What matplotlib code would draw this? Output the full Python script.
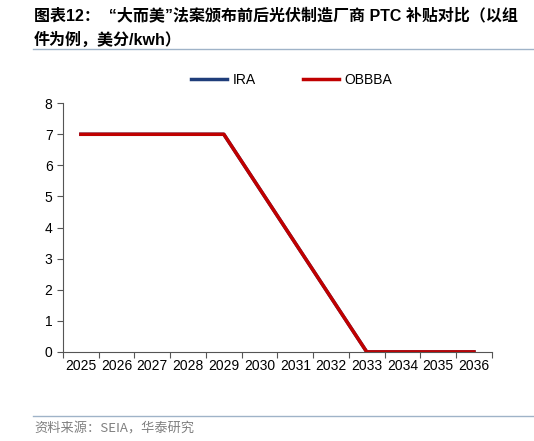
import matplotlib
matplotlib.use("Agg")
import matplotlib.pyplot as plt
from matplotlib.lines import Line2D

plt.rcParams['font.family'] = ['Liberation Sans', 'Noto Sans CJK SC', 'DejaVu Sans']

years = ['2025', '2026', '2027', '2028', '2029', '2030', '2031', '2032',
         '2033', '2034', '2035', '2036']
ira = [7, 7, 7, 7, 7, 5.25, 3.5, 1.75, 0, 0, 0, 0]
obbba = [7, 7, 7, 7, 7, 5.25, 3.5, 1.75, 0, 0, 0, 0]

blue = '#1f3d7a'
red = '#c00000'

fig = plt.figure(figsize=(5.34, 4.41), dpi=100)
ax = fig.add_axes([0.118, 0.202, 0.803, 0.564])

x = list(range(len(years)))
ax.plot(x, ira, color=blue, lw=2.5, label='IRA')
ax.plot(x, obbba, color=red, lw=2.5, label='OBBBA')

ax.set_xlim(-0.5, len(years) - 0.5)
ax.set_ylim(0, 8)
ax.set_yticks(range(0, 9))
ax.set_xticks([i - 0.5 for i in range(len(years) + 1)], minor=False)
ax.set_xticklabels([])
ax.set_xticks(x, minor=True)
ax.set_xticklabels(years, minor=True)
ax.tick_params(axis='x', which='minor', length=0, labelsize=10, pad=5)
ax.tick_params(axis='x', which='major', length=4, direction='out', color='#555555')
ax.tick_params(axis='y', length=4, direction='out', labelsize=10, color='#555555')
for s in ['top', 'right']:
    ax.spines[s].set_visible(False)
for s in ['left', 'bottom']:
    ax.spines[s].set_color('#555555')

handles = [Line2D([], [], color=blue, lw=2.5), Line2D([], [], color=red, lw=2.5)]
fig.legend(handles, ['IRA', 'OBBBA'], loc='center', bbox_to_anchor=(0.546, 0.818),
           ncol=2, frameon=False, fontsize=10, handlelength=2.6,
           columnspacing=3.4, handletextpad=0.4)

title_font = ['Liberation Sans', 'Noto Sans CJK SC', 'DejaVu Sans']
fig.text(0.064, 0.966, '图表12：  \u201c大而美\u201d法案颁布前后光伏制造厂商 PTC 补贴对比（以组',
         fontsize=11.5, fontweight='bold', va='center', family=title_font)
fig.text(0.064, 0.909, '件为例，美分/kwh）', fontsize=11.5, fontweight='bold', va='center',
         family=title_font)
fig.add_artist(Line2D([0.062, 1.0], [0.889, 0.889], color='#9fb3c8', lw=1))
fig.add_artist(Line2D([0.062, 1.0], [0.057, 0.057], color='#9fb3c8', lw=1))
fig.text(0.064, 0.028, '资料来源：SEIA，华泰研究', fontsize=9.5, color='#808080',
         va='center', family=['Noto Sans CJK SC', 'DejaVu Sans'])

fig.savefig('out.png', dpi=100)
